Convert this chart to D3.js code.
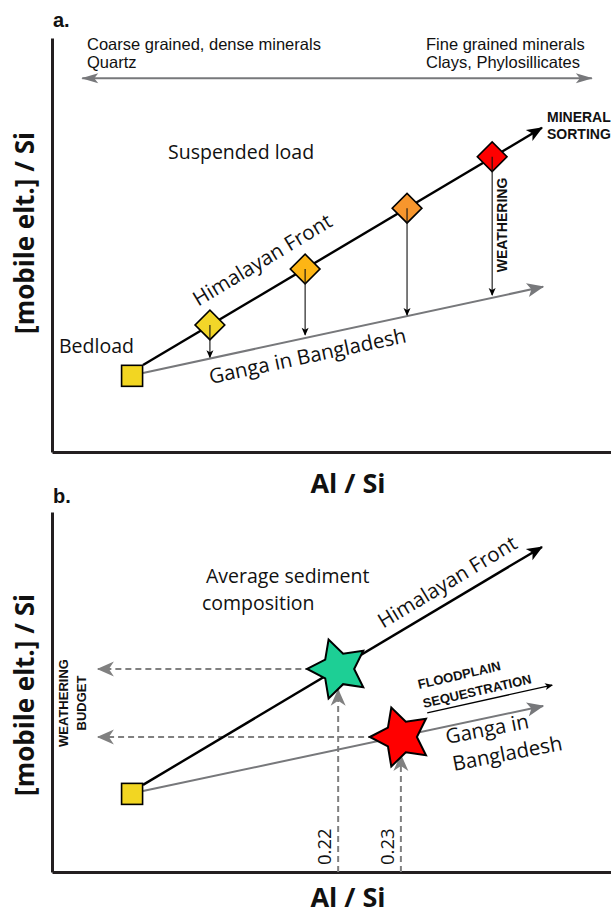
<!DOCTYPE html>
<html lang="en">
<head>
<meta charset="UTF-8"/>
<title>Mineral sorting and weathering</title>
<script src="https://cdn.jsdelivr.net/npm/d3@7"></script>
<style>
  body { margin: 0; background: #fff; }
  text { font-family: "Open Sans", sans-serif; fill: #111; }
  .arial { font-family: "Liberation Sans", Arial, sans-serif; }
</style>
</head>
<body>
<script>
// panel a: bedload -> suspended load samples along the Himalayan Front trend
var bedloadA = [14.3, 18.4];
var sortingAl = [28.2, 45.2, 63.4, 78.6];
var sortingMobile = [30.7, 44.2, 58.9, 71.3];
var weatheredMobile = [22.9, 28.3, 33.1, 37.9];
var sortingColors = ["#f2d629", "#fdb515", "#f7962d", "#ff0000"];
var himalayanA = [[16.25, 21.0], [87.5, 78.3]];
var gangaA = [[16.25, 19.1], [87.7, 39.9]];
var grainArrow = [[5.4, 90.3], [96.4, 90.3]];

// panel b: average sediment composition
var bedloadB = [14.3, 21.7];
var himalayanB = [[16.25, 24.2], [87.5, 90.3]];
var gangaB = [[16.25, 22.5], [87.7, 46.1]];
var averageAl = [51.1, 62.3];
var averageMobile = [56.4, 37.5];
var averageLabels = ["0.22", "0.23"];
var averageColors = ["#1dcf95", "#ff0000"];
var arrowTipMobile = [50.6, 32.5];
var budgetAl = 8.2;
var floodplainArrow = [[67.0, 44.2], [89.3, 51.9]];

var w = 611, h = 915;
var axisColor = "#231f20", gray = "#77787b";

var svg = d3.select("body").append("svg")
  .attr("width", w).attr("height", h);

// arrow heads
var defs = svg.append("defs");
function head(id, len, wid, notch, color, orient) {
  defs.append("marker")
    .attr("id", id)
    .attr("markerUnits", "userSpaceOnUse")
    .attr("viewBox", [-1, -wid / 2 - 1, len + 2, wid + 2].join(" "))
    .attr("markerWidth", len + 2).attr("markerHeight", wid + 2)
    .attr("refX", len - 1).attr("refY", 0)
    .attr("orient", orient || "auto")
    .append("path")
    .attr("d", "M0," + (-wid / 2) + "L" + len + ",0L0," + (wid / 2) + "L" + notch + ",0Z")
    .attr("fill", color);
}
head("hBlack", 16, 13, 4, "#000");
head("hGray", 17, 14, 4, gray);
head("hGrayEnds", 17, 10, 4, gray, "auto-start-reverse");
head("hSmall", 8, 7, 2, "#000");
head("hDash", 17, 15, 5, "#808080");

var xA = d3.scaleLinear().domain([0, 100]).range([52, 612]);
var yA = d3.scaleLinear().domain([0, 100]).range([452, 38]);
var xB = d3.scaleLinear().domain([0, 100]).range([52, 612]);
var yB = d3.scaleLinear().domain([0, 100]).range([872, 512]);

function axes(g, x, y) {
  var ax = g.append("g").attr("transform", "translate(0," + y.range()[0] + ")")
    .call(d3.axisBottom(x).tickValues([]).tickSizeOuter(0));
  var ay = g.append("g").attr("transform", "translate(" + x.range()[0] + ",0)")
    .call(d3.axisLeft(y).tickValues([]).tickSizeOuter(0));
  [ax, ay].forEach(function(a) {
    a.select(".domain").attr("stroke", axisColor).attr("stroke-width", 3);
  });
}

function line(g, x, y, pts, color, width, marker, dash) {
  var p = g.append("path")
    .attr("d", d3.line().x(function(d) { return x(d[0]); }).y(function(d) { return y(d[1]); })(pts))
    .attr("fill", "none")
    .attr("stroke", color)
    .attr("stroke-width", width);
  if (marker) p.attr("marker-end", "url(#" + marker + ")");
  if (dash) p.attr("stroke-dasharray", dash);
  return p;
}

function txt(g, s, px, py, size, opts) {
  opts = opts || {};
  var t = g.append("text")
    .attr("x", px).attr("y", py)
    .attr("font-size", size)
    .text(s);
  if (opts.rot) t.attr("transform", "rotate(" + opts.rot + "," + px + "," + py + ")");
  if (opts.anchor) t.attr("text-anchor", opts.anchor);
  if (opts.bold) t.attr("font-weight", "bold");
  if (opts.cls) t.attr("class", opts.cls);
  return t;
}

function square(g, x, y, pt) {
  g.append("rect")
    .attr("x", x(pt[0]) - 10.5).attr("y", y(pt[1]) - 10.5)
    .attr("width", 21).attr("height", 21)
    .attr("fill", "#f2d622").attr("stroke", "#000").attr("stroke-width", 1.6);
}

// ---------- panel a ----------
var ga = svg.append("g");
axes(ga, xA, yA);

txt(ga, "a.", 53, 27, 20, {bold: true, cls: "arial"});
txt(ga, "Coarse grained, dense minerals", 87, 50, 16.5, {cls: "arial"});
txt(ga, "Quartz", 87, 68, 16.5, {cls: "arial"});
txt(ga, "Fine grained minerals", 426, 50, 16.5, {cls: "arial"});
txt(ga, "Clays, Phylosillicates", 426, 68, 16.5, {cls: "arial"});
line(ga, xA, yA, grainArrow, gray, 2, "hGrayEnds")
  .attr("marker-start", "url(#hGrayEnds)");

line(ga, xA, yA, gangaA, gray, 2, "hGray");
line(ga, xA, yA, himalayanA, "#000", 2.4, "hBlack");
square(ga, xA, yA, bedloadA);

ga.selectAll("rect.sample")
  .data(sortingAl)
  .enter()
  .append("rect")
  .attr("class", "sample")
  .attr("x", -10.5).attr("y", -10.5)
  .attr("width", 21).attr("height", 21)
  .attr("transform", function(d, i) { return "translate(" + xA(d) + "," + yA(sortingMobile[i]) + ") rotate(45)"; })
  .attr("fill", function(d, i) { return sortingColors[i]; })
  .attr("stroke", "#000").attr("stroke-width", 1.6);

ga.selectAll("path.weather")
  .data(sortingAl)
  .enter()
  .append("path")
  .attr("class", "weather")
  .attr("d", function(d, i) { return "M" + xA(d) + "," + yA(sortingMobile[i]) + "V" + yA(weatheredMobile[i]); })
  .attr("stroke", "#111").attr("stroke-width", 1.1)
  .attr("marker-end", "url(#hSmall)");

txt(ga, "Suspended load", 168, 159, 19.5);
txt(ga, "Bedload", 59, 353, 19.5);
txt(ga, "Himalayan Front", 266, 266, 20.5, {anchor: "middle", rot: -31});
txt(ga, "Ganga in Bangladesh", 309, 363, 20.5, {anchor: "middle", rot: -12});
txt(ga, "WEATHERING", 507, 225, 14, {anchor: "middle", rot: -90, bold: true, cls: "arial"});
txt(ga, "MINERAL", 547, 122, 14, {bold: true, cls: "arial"});
txt(ga, "SORTING", 547, 139, 14, {bold: true, cls: "arial"});
txt(ga, "[mobile elt.] / Si", 34, 233, 26, {anchor: "middle", rot: -90, bold: true});
txt(ga, "Al / Si", 348, 493, 27, {anchor: "middle", bold: true});

// ---------- panel b ----------
var gb = svg.append("g");
axes(gb, xB, yB);
txt(gb, "b.", 53, 503, 20, {bold: true, cls: "arial"});

// weathering budget projections
averageAl.forEach(function(a, i) {
  line(gb, xB, yB, [[a, 0], [a, arrowTipMobile[i]]], "#808080", 2, "hDash", "6,4");
  line(gb, xB, yB, [[a - 3, averageMobile[i]], [budgetAl, averageMobile[i]]], "#808080", 2, "hDash", "6,4");
});

line(gb, xB, yB, gangaB, gray, 2, "hGray");
line(gb, xB, yB, himalayanB, "#000", 2.4, "hBlack");
square(gb, xB, yB, bedloadB);

var star = d3.lineRadial()
  .angle(function(d, i) { return i * Math.PI / 5 - Math.PI / 2; })
  .radius(function(d) { return d; })
  .curve(d3.curveLinearClosed);
var starRadii = [31, 16, 31, 16, 31, 16, 31, 16, 31, 16];

gb.selectAll("path.star")
  .data(averageAl)
  .enter()
  .append("path")
  .attr("class", "star")
  .attr("d", star(starRadii))
  .attr("transform", function(d, i) { return "translate(" + xB(d) + "," + yB(averageMobile[i]) + ")"; })
  .attr("fill", function(d, i) { return averageColors[i]; })
  .attr("stroke", "#000").attr("stroke-width", 2)
  .attr("stroke-linejoin", "miter");

gb.selectAll("text.val")
  .data(averageLabels)
  .enter()
  .append("text")
  .attr("class", "val")
  .attr("font-size", 18.5)
  .attr("transform", function(d, i) { return "translate(" + (xB(averageAl[i]) - 7) + ",865) rotate(-90)"; })
  .text(function(d) { return d; });

line(gb, xB, yB, floodplainArrow, "#000", 1.3, "hSmall");

txt(gb, "Average sediment", 206, 583, 19.5);
txt(gb, "composition", 202, 610, 19.5);
txt(gb, "Himalayan Front", 451, 588, 20.5, {anchor: "middle", rot: -31});
txt(gb, "Ganga in", 447, 744, 20.5, {rot: -11});
txt(gb, "Bangladesh", 454, 771, 20.5, {rot: -11});
txt(gb, "FLOODPLAIN", 419, 689, 13, {rot: -13, bold: true, cls: "arial"});
txt(gb, "SEQUESTRATION", 424, 708, 13, {rot: -13, bold: true, cls: "arial"});
txt(gb, "WEATHERING", 68, 703, 13, {anchor: "middle", rot: -90, bold: true, cls: "arial"});
txt(gb, "BUDGET", 86, 703, 13, {anchor: "middle", rot: -90, bold: true, cls: "arial"});
txt(gb, "[mobile elt.] / Si", 34, 695, 26, {anchor: "middle", rot: -90, bold: true});
txt(gb, "Al / Si", 348, 907, 27, {anchor: "middle", bold: true});
</script>
</body>
</html>
